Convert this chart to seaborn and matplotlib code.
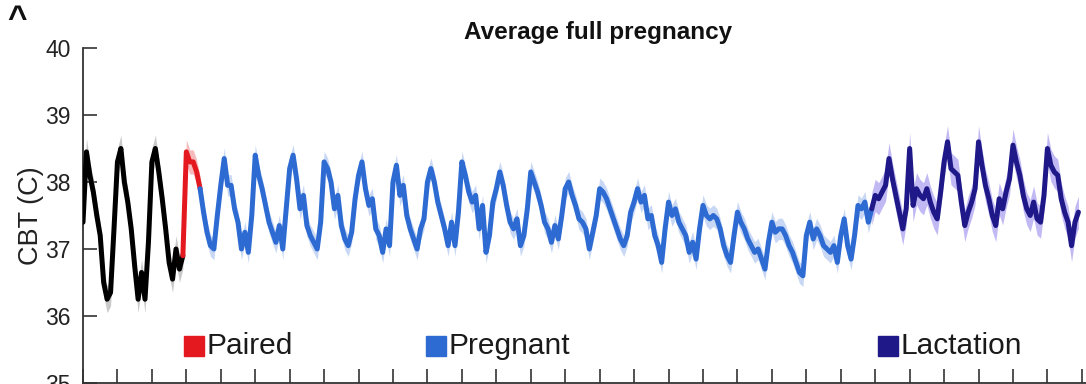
import numpy as np
import pandas as pd
import matplotlib
matplotlib.use("Agg")
import matplotlib.pyplot as plt
import seaborn as sns

# ---------------------------------------------------------------------------
# Core body temperature (°C), averaged across animals, sampled every 0.1 day
# ---------------------------------------------------------------------------
STEP = 0.1

unpaired_start = 0.0
unpaired_cbt = [
    37.4, 38.45, 38.1, 37.85, 37.5, 37.2, 36.5, 36.25, 36.35, 37.3,
    38.3, 38.5, 38.0, 37.7, 37.3, 36.75, 36.25, 36.65, 36.25, 37.1,
    38.3, 38.5, 38.15, 37.75, 37.3, 36.8, 36.55, 37.0, 36.7, 36.9,
]

paired_start = 3.0
paired_cbt = [38.45, 38.3, 38.3, 38.15, 37.9]

pregnant_start = 3.5
pregnant_cbt = [
    37.55, 37.25, 37.05, 37.0, 37.5,
    37.95, 38.35, 37.95, 37.95, 37.6, 37.4, 37.0, 37.25, 36.95, 37.5,
    38.4, 38.1, 37.9, 37.65, 37.4, 37.25, 37.1, 37.35, 37.0, 37.6,
    38.2, 38.4, 38.05, 37.6, 37.8, 37.35, 37.2, 37.1, 37.0, 37.4,
    38.3, 38.2, 38.0, 37.6, 37.8, 37.35, 37.15, 37.05, 37.25, 37.75,
    38.1, 38.3, 37.9, 37.65, 37.75, 37.3, 37.2, 36.95, 37.3, 37.05,
    38.0, 38.25, 37.8, 37.95, 37.5, 37.3, 37.15, 37.0, 37.3, 37.45,
    38.0, 38.2, 38.0, 37.7, 37.5, 37.3, 37.05, 37.4, 37.05, 37.55,
    38.3, 38.1, 37.85, 37.7, 37.8, 37.3, 37.65, 36.95, 37.2, 37.7,
    37.9, 38.15, 37.95, 37.65, 37.4, 37.3, 37.45, 37.05, 37.2, 37.6,
    38.15, 38.0, 37.85, 37.65, 37.4, 37.3, 37.1, 37.35, 37.15, 37.5,
    37.9, 38.0, 37.8, 37.65, 37.45, 37.4, 37.3, 37.0, 37.25, 37.5,
    37.9, 37.85, 37.75, 37.6, 37.45, 37.3, 37.15, 37.05, 37.2, 37.55,
    37.7, 37.9, 37.7, 37.8, 37.45, 37.5, 37.2, 37.05, 36.8, 37.3,
    37.7, 37.5, 37.6, 37.4, 37.3, 37.2, 36.95, 37.1, 36.85, 37.3,
    37.65, 37.5, 37.45, 37.5, 37.45, 37.3, 37.05, 36.9, 36.8, 37.2,
    37.55, 37.4, 37.3, 37.15, 37.05, 36.95, 37.0, 36.85, 36.7, 37.1,
    37.4, 37.25, 37.3, 37.3, 37.2, 37.05, 36.95, 36.8, 36.65, 36.6,
    37.2, 37.4, 37.15, 37.3, 37.2, 37.05, 37.0, 36.95, 37.05, 36.8,
    37.2, 37.45, 37.05, 36.85, 37.2, 37.65, 37.6, 37.7, 37.4, 37.6,
]

lactation_start = 23.0
lactation_cbt = [
    37.8, 37.75, 37.85, 37.95, 38.35, 38.05, 37.8, 37.55, 37.3, 37.6,
    38.5, 37.65, 37.9, 37.8, 37.75, 37.9, 37.7, 37.55, 37.45, 37.85,
    38.3, 38.6, 38.2, 38.15, 38.1, 37.7, 37.35, 37.55, 37.7, 37.9,
    38.6, 38.25, 37.95, 37.75, 37.5, 37.35, 37.75, 37.6, 37.85, 38.05,
    38.55, 38.3, 38.1, 37.8, 37.6, 37.5, 37.7, 37.45, 37.4, 37.8,
    38.5, 38.25, 38.15, 38.1, 37.75, 37.55, 37.4, 37.05, 37.4, 37.55,
]

# Standard error of the mean for each phase (°C)
phase_sem = [0.2, 0.18, 0.16, 0.24]

phase_labels = ["Unpaired", "Paired", "Pregnant", "Lactation"]
phase_starts = [unpaired_start, paired_start, pregnant_start, lactation_start]
phase_values = [unpaired_cbt, paired_cbt, pregnant_cbt, lactation_cbt]

line_colors = ["#000000", "#e3191f", "#2d6bd3", "#1e1888"]
band_colors = ["#c4c4c4", "#f6b3b5", "#c2d4f3", "#bbb2f2"]

# Legend entries (only the three reproductive phases are keyed)
legend_labels = ["Paired", "Pregnant", "Lactation"]
legend_days = [3.22, 10.26, 23.36]
legend_cbt = 35.55

# ---------------------------------------------------------------------------
frames = []
for label, start, vals, sem in zip(phase_labels, phase_starts, phase_values, phase_sem):
    days = start + STEP * np.arange(len(vals))
    frames.append(pd.DataFrame({"day": days, "cbt": vals, "phase": label, "sem": sem}))
df = pd.concat(frames, ignore_index=True)

sns.set_theme(style="ticks")
plt.rcParams["font.family"] = ["Liberation Sans", "DejaVu Sans"]

fig = plt.figure(figsize=(10.86, 3.84), dpi=100)
ax = fig.add_axes([83 / 1086, 1 / 384, 1 - 83 / 1086, 335 / 384])

prev_tail = None
for label, lc, bc in zip(phase_labels, line_colors, band_colors):
    seg = df[df["phase"] == label]
    if prev_tail is not None:
        # join each phase to the last sample of the phase before it
        seg = pd.concat([prev_tail, seg], ignore_index=True)
        seg["sem"] = seg["sem"].iloc[-1]
    ax.fill_between(seg["day"], seg["cbt"] - seg["sem"], seg["cbt"] + seg["sem"],
                    color=bc, lw=0, alpha=0.9, zorder=2)
    sns.lineplot(data=seg, x="day", y="cbt", ax=ax, color=lc, lw=3.6,
                 estimator=None, sort=True, legend=False, zorder=3)
    prev_tail = df[df["phase"] == label].iloc[[-1]]

ax.set_xlim(0, 29.12)
ax.set_ylim(35, 40)
ax.set_yticks([35, 36, 37, 38, 39, 40])
ax.set_xticks(np.arange(0, 30, 1))
ax.set_xlabel("")
ax.set_ylabel("CBT (C)", fontsize=19.5, color="#222222", labelpad=1)
ax.tick_params(axis="y", direction="in", length=10, width=1.2, colors="#333333",
               labelsize=16.5, labelcolor="#222222", pad=9)
ax.tick_params(axis="x", direction="in", length=10, width=1.2, colors="#333333",
               labelbottom=False)
for side in ["top", "right"]:
    ax.spines[side].set_visible(False)
for side in ["left", "bottom"]:
    ax.spines[side].set_color("#333333")
    ax.spines[side].set_linewidth(1.3)

for label, day, color in zip(legend_labels, legend_days, line_colors[1:]):
    ax.plot([day], [legend_cbt], marker="s", ms=15, color=color, ls="none",
            clip_on=False, zorder=4)
    ax.annotate(label, (day, legend_cbt), xytext=(9, 0), textcoords="offset points",
                va="center", ha="left", fontsize=21.5, color="#1a1a1a")

fig.text(598 / 1086, 1 - 33 / 384, "Average full pregnancy", ha="center", va="center",
         fontsize=17.5, fontweight="bold", color="#111111")
fig.text(17 / 1086, 1 - 19 / 384, "^", ha="center", va="center",
         fontsize=24, fontweight="bold", color="#111111")

fig.savefig("out.png", dpi=100)
